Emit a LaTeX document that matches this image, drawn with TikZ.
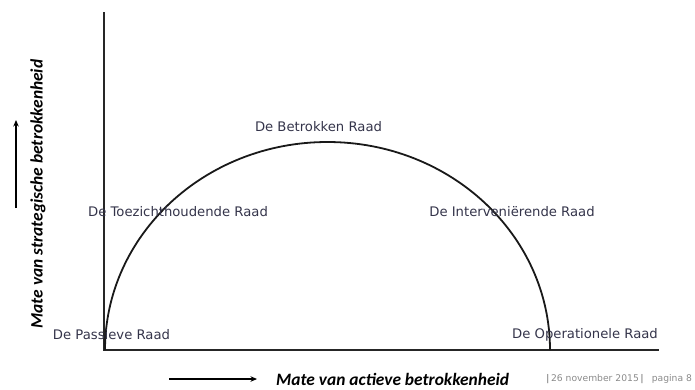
\documentclass[tikz,border=0pt]{standalone}
\usepackage{fontspec}
\setmainfont{DejaVu Sans}
\newfontfamily\axisfont{Carlito}
\usetikzlibrary{arrows.meta}
\definecolor{lbl}{HTML}{34344A}
\definecolor{foot}{HTML}{8A8A8A}
\begin{document}
\begin{tikzpicture}[x=1pt,y=-1pt,
  lab/.style={text=lbl,font=\fontsize{13.2}{15}\selectfont,inner sep=0pt,anchor=center},
  axislab/.style={font=\axisfont\bfseries\itshape\fontsize{17.4}{19}\selectfont,inner sep=0pt,text=black},
  axisline/.style={line width=2.2pt,draw=black!85},
  dirarrow/.style={line width=1.4pt,-{Stealth[length=6.5pt,width=5.5pt]}}]
\useasboundingbox (0,0) rectangle (695,389);
% axes
\coordinate (top) at (104,12);
\coordinate (origin) at (104,350);
\coordinate (xend) at (659,350);
\draw[axisline] (top) -- (origin) -- (xend);
% arc
\coordinate (arcstart) at (105,350);
\draw[line width=1.8pt,draw=black!90] (arcstart) arc[start angle=180,end angle=0,x radius=222.5,y radius=-208];
% labels
\node[lab] (passive) at (111.5,335) {De Passieve Raad};
\node[lab] (toezicht) at (178,212) {De Toezichthoudende Raad};
\node[lab] (betrokken) at (318.5,127) {De Betrokken Raad};
\node[lab] (interv) at (512,212) {De Interveniërende Raad};
\node[lab] (oper) at (585,335) {De Operationele Raad};
% axis labels
\node[axislab,rotate=90] (ylab) at (38,194) {Mate van strategische betrokkenheid};
\node[axislab,anchor=west] (xlab) at (276,379.5) {Mate van actieve betrokkenheid};
\coordinate (ya) at (16,208);
\coordinate (yb) at (16,120);
\draw[dirarrow] (ya) -- (yb);
\coordinate (xa) at (169,379);
\coordinate (xb) at (257,379);
\draw[dirarrow] (xa) -- (xb);
% footer
\node[anchor=west,text=foot,font=\fontsize{9.2}{11}\selectfont,inner sep=0pt] (footer) at (546,379) {\textbf{|}\,26 november 2015\,\textbf{|}\;\; pagina 8};
\end{tikzpicture}
\end{document}
